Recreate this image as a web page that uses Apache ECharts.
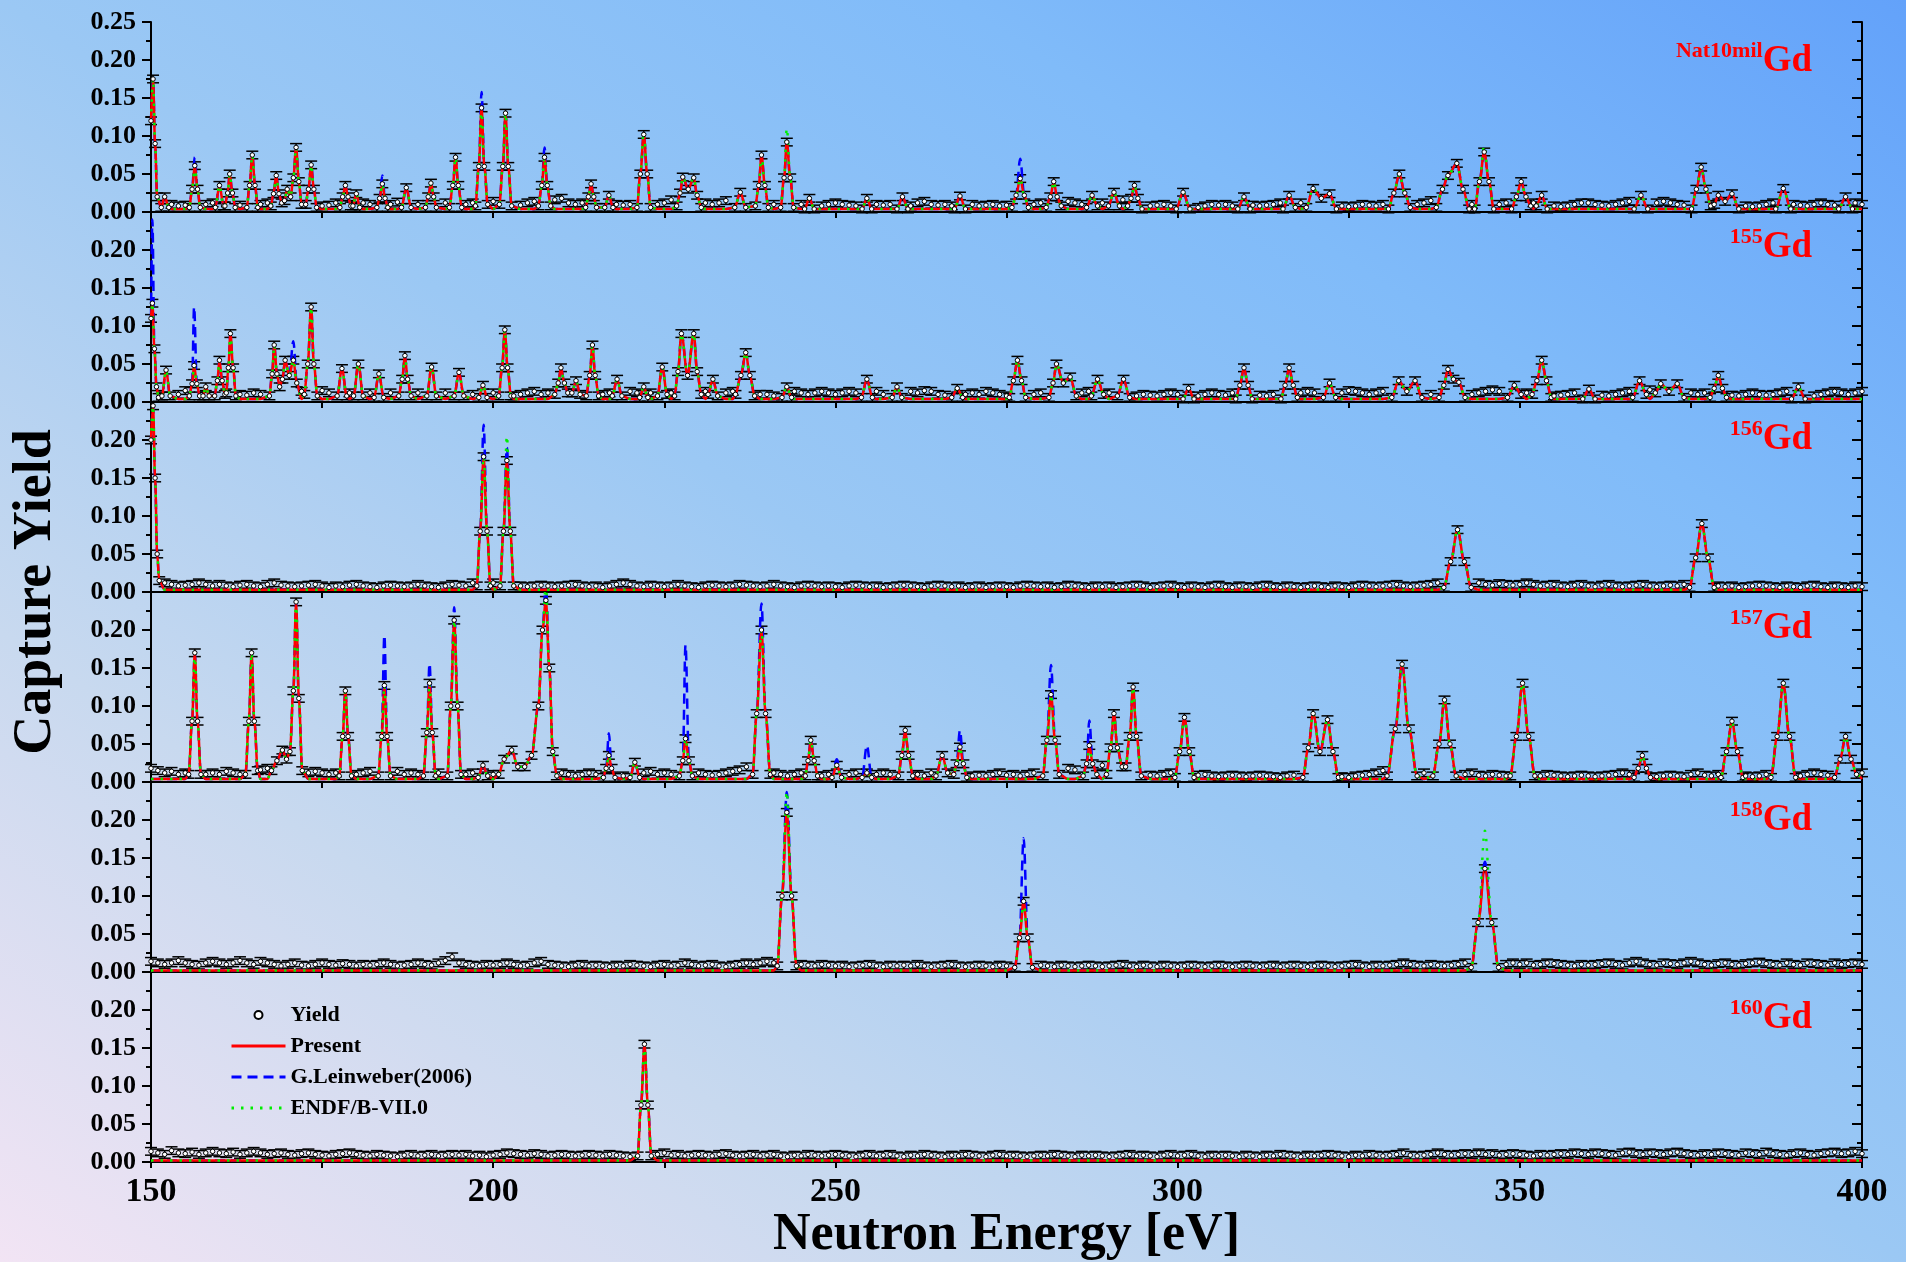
<!DOCTYPE html>
<html><head><meta charset="utf-8">
<script src="https://cdn.jsdelivr.net/npm/echarts/dist/echarts.min.js"></script>
<style>
html,body{margin:0;padding:0;width:1906px;height:1262px;overflow:hidden}
#c{width:1906px;height:1262px;background:linear-gradient(to top right,#f2e4f4 0%,#c8d9ef 25%,#9bc8f4 50%,#80bbf9 75%,#63a2fa 100%)}
</style>
</head><body><div id="c"></div>
<script>
// ---------- DATA ----------
const energyStart = 150;           // first energy of the off-resonance grids (eV), 1 eV apart
const xLabelValues = [150, 200, 250, 300, 350, 400];
const panelIsotopes = ['Nat10mil', '155', '156', '157', '158', '160'];
const fitBackground = [0.004, 0.004, 0.003, 0.004, 0.002, 0.002];
const yieldErr = 0.005;

// off-resonance yield points, 150..400 eV
const noiseNat = [
.02,.018,.012,.01,.008,.009,.012,.009,.01,.012,
.012,.015,.01,.009,.011,.013,.01,.012,.014,.018,
.016,.014,.012,.015,.01,.008,.009,.012,.015,.012,
.014,.012,.01,.015,.014,.01,.013,.016,.012,.01,
.012,.014,.01,.012,.015,.012,.01,.012,.014,.016,
.014,.012,.01,.012,.009,.012,.014,.015,.012,.016,
.018,.012,.01,.012,.014,.016,.012,.014,.01,.009,
.01,.012,.015,.012,.01,.012,.016,.02,.022,.018,
.014,.012,.01,.012,.015,.012,.014,.012,.016,.014,
.012,.01,.012,.014,.011,.01,.012,.01,.008,.01,
.012,.01,.009,.008,.01,.012,.01,.009,.01,.012,
.01,.008,.012,.014,.01,.009,.01,.008,.012,.014,
.01,.008,.009,.01,.008,.009,.01,.014,.012,.01,
.012,.015,.014,.01,.014,.012,.01,.012,.014,.012,
.014,.012,.016,.014,.012,.01,.008,.009,.01,.008,
.01,.012,.008,.006,.008,.01,.009,.01,.008,.012,
.012,.009,.008,.009,.01,.012,.014,.01,.012,.016,
.018,.016,.014,.012,.008,.007,.008,.01,.009,.008,
.01,.012,.015,.014,.012,.01,.012,.015,.018,.02,
.022,.018,.012,.01,.012,.015,.012,.01,.012,.014,
.016,.014,.012,.014,.01,.008,.007,.008,.01,.012,
.012,.01,.009,.008,.01,.012,.014,.012,.01,.01,
.012,.014,.012,.01,.009,.01,.012,.015,.014,.012,
.014,.012,.01,.008,.007,.008,.01,.012,.014,.012,
.01,.009,.008,.01,.012,.01,.009,.012,.014,.012,
.01];
const noise155 = [
.02,.015,.012,.012,.01,.015,.012,.01,.012,.01,
.012,.01,.012,.01,.009,.012,.01,.015,.012,.016,
.018,.015,.014,.012,.01,.015,.012,.014,.01,.012,
.014,.01,.012,.015,.014,.012,.01,.012,.015,.012,
.014,.012,.01,.012,.015,.014,.012,.01,.012,.014,
.012,.01,.012,.008,.01,.012,.014,.01,.012,.016,
.018,.014,.016,.012,.015,.012,.01,.012,.014,.016,
.014,.012,.01,.012,.018,.016,.012,.014,.02,.018,
.016,.014,.018,.015,.012,.014,.016,.018,.014,.01,
.01,.008,.01,.012,.014,.012,.01,.012,.014,.012,
.01,.012,.014,.012,.01,.012,.014,.01,.012,.014,
.012,.014,.012,.015,.014,.01,.009,.01,.012,.01,
.012,.01,.014,.012,.01,.008,.012,.015,.012,.01,
.012,.015,.014,.012,.015,.014,.012,.014,.012,.01,
.012,.014,.012,.01,.008,.01,.009,.008,.01,.012,
.01,.012,.01,.008,.01,.012,.01,.009,.012,.014,
.012,.01,.009,.008,.01,.014,.012,.01,.012,.014,
.012,.01,.012,.014,.012,.015,.014,.012,.01,.012,
.014,.012,.015,.014,.016,.014,.012,.01,.012,.016,
.018,.015,.012,.01,.012,.014,.016,.014,.015,.016,
.014,.012,.015,.014,.01,.008,.009,.01,.012,.014,
.012,.01,.009,.008,.01,.012,.014,.012,.015,.016,
.018,.015,.014,.016,.014,.012,.01,.012,.014,.012,
.01,.009,.008,.01,.012,.01,.009,.01,.012,.014,
.012,.01,.009,.008,.01,.012,.014,.012,.01,.012,
.014];
const noise156 = [
.012,.01,.012,.01,.008,.009,.01,.012,.01,.008,
.01,.008,.007,.009,.01,.008,.007,.01,.012,.009,
.008,.007,.008,.009,.01,.008,.006,.008,.007,.009,
.01,.008,.007,.006,.008,.009,.008,.007,.008,.01,
.008,.007,.006,.008,.01,.009,.008,.012,.01,.012,
.012,.01,.012,.01,.008,.007,.008,.009,.008,.007,
.008,.009,.01,.008,.007,.008,.006,.008,.01,.012,
.01,.008,.007,.009,.008,.007,.008,.01,.008,.007,
.006,.008,.009,.008,.007,.008,.01,.009,.008,.007,
.008,.01,.008,.007,.006,.008,.009,.008,.007,.008,
.007,.006,.008,.009,.008,.007,.008,.006,.007,.008,
.009,.008,.007,.006,.008,.009,.008,.007,.008,.006,
.007,.008,.006,.007,.008,.007,.006,.008,.009,.008,
.007,.008,.006,.007,.009,.008,.007,.006,.008,.007,
.008,.006,.007,.008,.009,.008,.006,.007,.008,.009,
.007,.006,.008,.007,.006,.008,.009,.007,.006,.008,
.007,.006,.008,.009,.007,.006,.008,.007,.006,.007,
.008,.007,.006,.008,.007,.006,.008,.009,.008,.007,
.008,.009,.01,.008,.007,.008,.009,.01,.012,.01,
.012,.01,.009,.01,.012,.01,.009,.011,.01,.009,
.01,.012,.01,.008,.009,.01,.008,.007,.009,.01,
.008,.007,.009,.01,.008,.007,.008,.009,.01,.008,
.007,.008,.009,.008,.01,.012,.01,.009,.01,.008,
.007,.008,.006,.007,.008,.009,.008,.007,.006,.008,
.007,.006,.008,.009,.007,.006,.008,.007,.006,.008,
.007];
const noise157 = [
.018,.015,.012,.014,.01,.012,.015,.012,.01,.012,
.01,.014,.012,.01,.012,.014,.016,.018,.02,.03,
.035,.02,.015,.012,.014,.012,.01,.012,.014,.012,
.01,.012,.014,.012,.01,.012,.014,.01,.012,.01,
.012,.014,.012,.01,.015,.012,.01,.012,.014,.012,
.01,.02,.03,.025,.02,.025,.03,.04,.03,.015,
.012,.01,.008,.01,.012,.01,.009,.012,.01,.008,
.012,.01,.012,.014,.01,.012,.01,.012,.014,.016,
.012,.01,.009,.01,.012,.014,.016,.02,.03,.05,
.02,.012,.01,.008,.01,.012,.015,.01,.008,.01,
.009,.008,.01,.012,.01,.008,.01,.012,.01,.012,
.01,.012,.01,.008,.012,.015,.014,.016,.012,.01,
.008,.009,.008,.01,.012,.009,.01,.008,.01,.012,
.015,.012,.01,.012,.018,.016,.015,.012,.02,.022,
.025,.02,.018,.022,.015,.01,.009,.008,.01,.012,
.012,.01,.008,.009,.01,.008,.007,.008,.009,.008,
.007,.008,.009,.008,.007,.006,.008,.009,.01,.012,
.014,.012,.01,.008,.007,.006,.008,.009,.01,.012,
.015,.012,.01,.012,.009,.01,.012,.014,.012,.01,
.009,.008,.01,.012,.009,.008,.01,.009,.008,.009,
.01,.012,.009,.008,.01,.009,.008,.007,.008,.009,
.008,.007,.008,.009,.01,.012,.01,.012,.01,.008,
.007,.008,.009,.008,.007,.01,.012,.009,.008,.01,
.012,.01,.009,.008,.007,.008,.01,.009,.012,.01,
.009,.008,.01,.012,.01,.009,.012,.014,.016,.015,
.012];
const noise158 = [
.014,.012,.01,.012,.015,.012,.01,.009,.012,.014,
.012,.01,.012,.015,.012,.01,.014,.012,.01,.008,
.01,.012,.009,.008,.01,.012,.01,.009,.011,.01,
.008,.01,.009,.01,.012,.01,.008,.009,.01,.012,
.01,.009,.012,.015,.02,.012,.01,.009,.008,.01,
.009,.01,.012,.01,.008,.009,.012,.014,.01,.009,
.008,.007,.009,.01,.008,.009,.008,.007,.009,.008,
.01,.009,.008,.007,.009,.01,.008,.009,.012,.01,
.008,.009,.01,.008,.007,.009,.01,.012,.01,.012,
.014,.012,.01,.012,.014,.01,.009,.008,.01,.009,
.008,.009,.007,.008,.009,.01,.008,.007,.009,.008,
.009,.008,.01,.008,.007,.008,.009,.01,.008,.007,
.008,.009,.008,.007,.009,.008,.01,.012,.01,.008,
.009,.008,.007,.009,.008,.007,.008,.009,.008,.007,
.008,.009,.01,.008,.007,.009,.008,.007,.009,.008,
.007,.008,.009,.008,.007,.008,.009,.008,.007,.008,
.009,.008,.007,.008,.009,.007,.008,.009,.008,.007,
.008,.009,.008,.007,.008,.009,.01,.008,.007,.009,
.008,.009,.01,.012,.01,.009,.008,.01,.009,.008,
.009,.01,.012,.014,.012,.01,.012,.009,.01,.012,
.01,.012,.009,.01,.012,.011,.01,.009,.008,.01,
.009,.01,.011,.012,.01,.009,.012,.014,.012,.01,
.009,.012,.011,.01,.012,.014,.012,.01,.009,.011,
.012,.01,.009,.011,.012,.013,.011,.01,.009,.012,
.01,.009,.012,.011,.01,.009,.012,.01,.011,.012,
.01];
const noise160 = [
.014,.012,.01,.015,.012,.011,.013,.01,.012,.014,
.012,.011,.013,.01,.012,.014,.012,.01,.011,.012,
.01,.009,.011,.012,.01,.009,.008,.01,.011,.012,
.01,.009,.008,.01,.009,.008,.007,.009,.01,.008,
.009,.01,.008,.009,.01,.009,.01,.008,.009,.007,
.009,.01,.012,.011,.01,.009,.011,.01,.008,.009,
.01,.009,.008,.009,.01,.009,.008,.01,.009,.008,
.007,.009,.01,.008,.01,.012,.009,.01,.008,.009,
.01,.009,.008,.01,.011,.009,.008,.009,.01,.008,
.009,.01,.008,.007,.009,.008,.01,.009,.008,.009,
.01,.009,.008,.007,.009,.01,.008,.009,.01,.008,
.007,.009,.008,.01,.009,.008,.007,.009,.008,.01,
.009,.008,.007,.009,.01,.008,.009,.008,.007,.008,
.009,.008,.01,.009,.008,.007,.009,.008,.009,.008,
.007,.008,.009,.01,.008,.009,.008,.007,.009,.01,
.008,.009,.01,.008,.007,.009,.008,.009,.008,.007,
.009,.008,.007,.009,.008,.01,.009,.008,.007,.009,
.008,.009,.01,.009,.008,.007,.009,.008,.01,.009,
.008,.009,.01,.012,.009,.008,.009,.01,.012,.01,
.009,.01,.011,.01,.012,.01,.011,.009,.01,.011,
.01,.009,.008,.01,.009,.01,.011,.01,.012,.011,
.01,.012,.011,.01,.009,.012,.013,.011,.01,.012,
.011,.01,.012,.013,.011,.01,.009,.011,.01,.012,
.011,.01,.009,.012,.011,.01,.013,.011,.01,.009,
.011,.012,.01,.009,.011,.012,.013,.011,.012,.014,
.011];

// resonance shapes: each group is [E1,Y1, E2,Y2, ...]
const peaksNat = [
[150.0,.12,150.3,.175,150.6,.09,150.9,.02],
[151.5,.006,152.0,.02,152.6,.006],
[155.6,.006,156.0,.03,156.4,.061,156.8,.03,157.2,.006],
[159.4,.006,160.0,.035,160.6,.008],
[160.8,.008,161.2,.025,161.5,.05,161.9,.025,162.3,.006],
[164.0,.006,164.4,.035,164.8,.075,165.2,.035,165.6,.006],
[167.5,.008,167.9,.024,168.3,.048,168.7,.024,169.1,.012],
[169.5,.015,169.9,.03,170.4,.02,170.8,.045,171.2,.085,171.6,.04,172.0,.01],
[172.6,.01,173.0,.03,173.4,.062,173.8,.03,174.2,.006],
[177.6,.006,178.0,.02,178.4,.035,178.8,.02,179.2,.008],
[179.5,.008,180.0,.024,180.5,.006],
[183.0,.006,183.4,.018,183.8,.037,184.2,.018,184.6,.006],
[186.6,.006,187.3,.032,188.0,.006],
[190.1,.006,190.5,.02,190.9,.038,191.3,.02,191.7,.006],
[193.6,.006,194.1,.035,194.5,.072,194.9,.035,195.4,.006],
[197.4,.008,197.9,.06,198.3,.137,198.7,.06,199.2,.01],
[200.9,.01,201.4,.06,201.8,.13,202.2,.06,202.7,.008],
[206.6,.008,207.1,.035,207.5,.072,207.9,.035,208.4,.008],
[213.5,.006,213.9,.02,214.3,.037,214.7,.02,215.1,.006],
[216.3,.006,216.9,.022,217.5,.006],
[221.0,.006,221.5,.05,222.0,.102,222.5,.05,223.0,.006],
[226.8,.008,227.3,.025,227.7,.046,228.5,.03,229.3,.045,229.8,.022,230.4,.006],
[235.3,.006,236.1,.026,236.9,.006],
[238.3,.008,238.8,.035,239.2,.075,239.7,.035,240.2,.006],
[242.0,.006,242.5,.045,242.9,.092,243.4,.045,243.9,.006],
[245.5,.004,246.2,.018,246.9,.004],
[253.9,.004,254.6,.018,255.3,.004],
[259.0,.004,259.8,.02,260.6,.004],
[267.4,.004,268.2,.021,269.0,.004],
[275.8,.006,276.4,.022,277.0,.044,277.6,.022,278.2,.006],
[280.8,.006,281.4,.02,281.9,.04,282.4,.02,283.0,.008],
[286.7,.006,287.5,.022,288.3,.008],
[289.9,.008,290.7,.026,291.5,.008],
[292.7,.008,293.2,.018,293.7,.035,294.2,.018,294.8,.004],
[299.8,.004,300.8,.026,301.8,.004],
[308.8,.004,309.7,.02,310.6,.004],
[315.4,.004,316.3,.022,317.2,.006],
[318.8,.006,319.8,.031,321.0,.018,322.2,.024,323.2,.004],
[330.8,.004,331.6,.025,332.4,.05,333.2,.025,334.0,.006],
[337.8,.006,338.7,.03,339.5,.048,340.8,.064,341.7,.03,342.6,.004],
[343.4,.004,344.1,.04,344.8,.079,345.5,.04,346.2,.004],
[348.8,.004,349.5,.02,350.2,.04,350.9,.02,351.6,.008],
[352.4,.008,353.2,.022,354.0,.004],
[366.7,.004,367.7,.022,368.7,.004],
[375.1,.004,375.8,.03,376.5,.059,377.2,.03,377.9,.008],
[378.4,.01,379.0,.022,380.0,.014,381.0,.024,382.0,.004],
[387.4,.004,388.5,.031,389.6,.004],
[396.6,.004,397.6,.02,398.6,.004]
];
const peaks155 = [
[150.0,.11,150.2,.13,150.5,.07,150.8,.02,151.1,.006],
[151.6,.008,152.2,.042,152.8,.008],
[155.6,.008,156.0,.024,156.3,.048,156.7,.024,157.1,.008],
[157.6,.008,158.0,.02,158.5,.008],
[159.3,.008,159.7,.028,160.0,.055,160.4,.028,160.8,.01],
[161.0,.012,161.3,.045,161.6,.09,162.0,.045,162.4,.008],
[167.3,.008,167.7,.037,168.0,.075,168.4,.037,168.8,.02],
[169.2,.03,169.6,.055,170.2,.035,170.8,.055,171.3,.025],
[172.4,.01,172.9,.05,173.4,.125,173.8,.05,174.3,.008],
[177.2,.008,177.9,.044,178.6,.008],
[179.6,.008,180.3,.05,181.0,.008],
[182.6,.006,183.3,.037,184.0,.006],
[186.2,.008,186.7,.03,187.1,.061,187.5,.03,188.0,.008],
[190.3,.008,191.0,.046,191.7,.008],
[194.3,.008,195.0,.039,195.7,.008],
[197.9,.006,198.5,.022,199.1,.006],
[200.8,.008,201.3,.045,201.7,.095,202.1,.045,202.6,.008],
[209.0,.01,209.5,.025,209.9,.045,210.4,.025,210.9,.012],
[211.5,.012,212.1,.028,212.7,.01],
[213.6,.008,214.1,.035,214.5,.075,214.9,.035,215.4,.008],
[217.4,.008,218.1,.03,218.8,.008],
[221.4,.006,222.0,.02,222.6,.006],
[224.0,.008,224.7,.046,225.4,.01],
[226.5,.008,227.0,.04,227.5,.09,228.4,.035,229.3,.09,229.8,.04,230.4,.01],
[231.4,.01,232.1,.03,232.8,.008],
[235.4,.01,236.2,.035,236.9,.065,237.5,.035,238.2,.008],
[242.2,.006,242.9,.02,243.6,.006],
[253.8,.006,254.6,.03,255.4,.006],
[258.3,.006,259.0,.02,259.7,.006],
[267.0,.006,267.8,.018,268.6,.006],
[275.4,.006,276.0,.028,276.6,.055,277.2,.028,277.8,.006],
[281.2,.006,281.8,.025,282.3,.05,283.3,.025,284.3,.033,285.2,.008],
[287.4,.008,288.3,.03,289.2,.01],
[291.2,.008,292.1,.03,293.0,.006],
[300.8,.004,301.6,.018,302.4,.004],
[308.5,.004,309.1,.022,309.7,.045,310.3,.022,310.9,.004],
[315.1,.004,315.7,.022,316.3,.045,316.9,.022,317.5,.006],
[321.3,.006,322.2,.025,323.1,.006],
[331.3,.006,332.3,.028,333.5,.014,334.7,.028,335.7,.006],
[338.2,.006,338.9,.022,339.5,.043,340.3,.03,341.1,.026,342.0,.006],
[348.2,.006,349.2,.022,350.2,.01],
[351.8,.01,352.5,.028,353.2,.055,353.9,.028,354.6,.006],
[359.2,.004,360.1,.017,361.0,.004],
[366.5,.006,367.5,.028,368.5,.01],
[369.8,.012,370.6,.024,371.8,.014,373.0,.024,374.0,.006],
[377.8,.006,378.4,.018,379.0,.035,379.6,.018,380.2,.006],
[389.7,.004,390.7,.02,391.7,.004]
];
const peaks156 = [
[150.0,.2,150.3,.245,150.6,.15,150.9,.05,151.2,.015],
[197.6,.008,198.1,.08,198.6,.178,199.1,.08,199.6,.008],
[201.0,.008,201.5,.08,202.0,.173,202.5,.08,203.0,.008],
[338.9,.006,339.9,.04,340.9,.082,341.9,.04,342.9,.006],
[374.8,.006,375.7,.045,376.6,.09,377.5,.045,378.4,.006]
];
const peaks157 = [
[155.5,.01,156.0,.08,156.4,.17,156.8,.08,157.3,.01],
[163.8,.01,164.3,.08,164.7,.17,165.1,.08,165.6,.015],
[167.6,.015,168.4,.028,169.2,.042,169.8,.03,170.3,.04,170.8,.12,171.2,.237,171.6,.11,172.1,.015],
[177.5,.008,178.0,.06,178.4,.12,178.8,.06,179.3,.008],
[183.2,.008,183.7,.06,184.1,.127,184.5,.06,185.0,.008],
[189.8,.008,190.3,.065,190.7,.13,191.1,.065,191.6,.008],
[193.3,.008,193.8,.1,194.3,.213,194.8,.1,195.3,.01],
[197.8,.006,198.5,.022,199.2,.008],
[200.8,.01,201.6,.03,202.7,.042,203.6,.02,204.6,.02,205.6,.035,206.6,.1,207.2,.2,207.7,.239,208.2,.15,208.7,.04,209.3,.008],
[216.1,.006,216.5,.018,216.9,.035,217.3,.018,217.8,.006],
[220.0,.006,220.7,.026,221.4,.006],
[227.2,.008,227.7,.028,228.1,.057,228.6,.028,229.1,.008],
[237.9,.01,238.5,.09,239.2,.2,239.8,.09,240.5,.01],
[245.6,.008,246.0,.028,246.4,.055,246.9,.028,247.4,.008],
[249.5,.006,250.2,.022,250.9,.006],
[253.9,.006,254.6,.012,255.3,.006],
[259.2,.008,259.7,.035,260.2,.068,260.7,.035,261.3,.008],
[264.7,.008,265.6,.035,266.4,.012],
[267.3,.01,267.7,.024,268.2,.046,268.7,.024,269.2,.006],
[280.3,.008,280.9,.055,281.5,.115,282.1,.055,282.7,.01],
[286.2,.008,286.7,.024,287.1,.048,287.6,.024,288.2,.01],
[289.6,.01,290.2,.045,290.7,.09,291.2,.045,291.9,.02],
[292.4,.02,293.0,.06,293.5,.125,294.0,.06,294.7,.008],
[299.6,.006,300.3,.04,301.0,.085,301.7,.04,302.4,.006],
[318.3,.006,319.1,.045,319.8,.09,320.8,.04,321.9,.082,322.7,.04,323.5,.006],
[330.6,.008,331.8,.07,332.8,.155,333.8,.07,335.0,.008],
[337.3,.008,338.2,.05,339.0,.108,339.8,.05,340.7,.008],
[348.6,.008,349.5,.06,350.4,.13,351.3,.06,352.2,.008],
[366.7,.006,367.3,.018,367.9,.035,368.5,.018,369.1,.006],
[379.4,.006,380.2,.04,381.0,.08,381.8,.04,382.6,.006],
[386.7,.006,387.6,.06,388.5,.13,389.4,.06,390.3,.006],
[396.0,.006,396.8,.03,397.6,.06,398.4,.03,399.2,.01]
];
const peaks158 = [
[241.5,.008,242.2,.1,242.9,.21,243.6,.1,244.3,.008],
[276.2,.006,276.9,.045,277.5,.093,278.1,.045,278.8,.006],
[342.9,.006,343.9,.065,344.9,.136,345.9,.065,346.9,.006]
];
const peaks160 = [
[221.1,.008,221.6,.075,222.1,.155,222.6,.075,223.1,.008]
];

// peak heights where G.Leinweber(2006) / ENDF/B-VII.0 differ from the present fit: [E, yield]
const leinNat = [[156.4,.072],[183.8,.048],[198.3,.158],[207.5,.085],[277.0,.07]];
const endfNat = [[222.0,.105],[242.9,.11],[344.8,.087]];
const lein155 = [[150.2,.24],[156.3,.125],[170.8,.08]];
const endf155 = [];
const lein156 = [[198.6,.22],[202.0,.19]];
const endf156 = [[202.0,.205]];
const lein157 = [[184.1,.193],[190.7,.156],[194.3,.23],[207.7,.26],[216.9,.064],[228.1,.18],[239.2,.235],[250.2,.03],[254.6,.048],[268.2,.068],[281.5,.154],[287.1,.081]];
const endf157 = [[207.7,.26]];
const lein158 = [[242.9,.237],[277.5,.176],[344.9,.145]];
const endf158 = [[242.9,.237],[344.9,.186]];
const lein160 = [];
const endf160 = [];

// ---------- BUILD ----------
const panels = [
  [noiseNat, peaksNat, leinNat, endfNat],
  [noise155, peaks155, lein155, endf155],
  [noise156, peaks156, lein156, endf156],
  [noise157, peaks157, lein157, endf157],
  [noise158, peaks158, lein158, endf158],
  [noise160, peaks160, lein160, endf160]
];

function buildPanel(noise, peaks, bg, lein, endf) {
  const spans = peaks.map(g => [g[0], g[g.length - 2]]);
  const inside = e => spans.some(s => e > s[0] - 0.4 && e < s[1] + 0.4);
  const yieldPts = [], fitPts = [];
  noise.forEach((y, i) => {
    const e = energyStart + i;
    if (!inside(e)) { yieldPts.push([e, y]); fitPts.push([e, bg]); }
  });
  peaks.forEach(g => {
    for (let i = 0; i < g.length; i += 2) { yieldPts.push([g[i], g[i + 1]]); fitPts.push([g[i], g[i + 1]]); }
  });
  yieldPts.sort((a, b) => a[0] - b[0]);
  fitPts.sort((a, b) => a[0] - b[0]);
  const over = ov => fitPts.map(p => {
    const m = ov.find(o => Math.abs(o[0] - p[0]) < 1e-6);
    return m ? [p[0], m[1]] : p;
  });
  return { yieldPts, fitPts, leinPts: over(lein), endfPts: over(endf) };
}

const FONT = '"Liberation Serif","Times New Roman",serif';
const L = 151, R = 44, TOP = 22, PH = 190;

function renderErrorBar(params, api) {
  const e = api.value(0), y = api.value(1), err = api.value(2);
  const hi = api.coord([e, y + err]), lo = api.coord([e, y - err]);
  const st = { stroke: '#000', lineWidth: 1.5 };
  return { type: 'group', children: [
    { type: 'line', shape: { x1: hi[0], y1: hi[1], x2: lo[0], y2: lo[1] }, style: st },
    { type: 'line', shape: { x1: hi[0] - 6, y1: hi[1], x2: hi[0] + 6, y2: hi[1] }, style: st },
    { type: 'line', shape: { x1: lo[0] - 6, y1: lo[1], x2: lo[0] + 6, y2: lo[1] }, style: st }
  ]};
}

const grids = [], xAxes = [], yAxes = [], series = [], graphics = [];
const labelTops = [40, 226, 418, 607, 799, 997];

panels.forEach((p, i) => {
  const d = buildPanel(p[0], p[1], fitBackground[i], p[2], p[3]);
  grids.push({ left: L, right: R, top: TOP + PH * i, height: PH, outerBoundsMode: 'none', containLabel: false });
  const last = i === panels.length - 1;
  xAxes.push({
    type: 'value', gridIndex: i, min: 150, max: 400, interval: 25, position: 'bottom',
    axisLine: { show: true, onZero: false, lineStyle: { color: '#000', width: 2 } },
    axisTick: { show: true, inside: false, length: 6, lineStyle: { color: '#000', width: 2 } },
    splitLine: { show: false },
    axisLabel: {
      show: last, margin: 13, color: '#000', fontFamily: FONT, fontWeight: 'bold', fontSize: 34,
      formatter: v => xLabelValues.indexOf(v) >= 0 ? String(v) : ''
    },
    name: last ? 'Neutron Energy [eV]' : '', nameLocation: 'middle', nameGap: 37,
    nameTextStyle: { color: '#000', fontFamily: FONT, fontWeight: 'bold', fontSize: 52 }
  });
  const yBase = {
    type: 'value', gridIndex: i, min: 0, max: 0.25, interval: 0.05,
    splitLine: { show: false },
    axisLine: { show: true, onZero: false, lineStyle: { color: '#000', width: 2 } }
  };
  yAxes.push(Object.assign({}, yBase, {
    position: 'left',
    axisTick: { show: true, inside: false, length: 9, lineStyle: { color: '#000', width: 2 } },
    minorTick: { show: true, splitNumber: 2, length: 5, lineStyle: { color: '#000', width: 2 } },
    axisLabel: {
      show: true, margin: 15, color: '#000', fontFamily: FONT, fontWeight: 'bold', fontSize: 26,
      showMinLabel: true, showMaxLabel: i === 0,
      formatter: v => (i > 0 && v > 0.245) ? '' : v.toFixed(2)
    }
  }));
  yAxes.push(Object.assign({}, yBase, {
    position: 'right',
    axisTick: { show: true, inside: true, length: 10, lineStyle: { color: '#000', width: 2 } },
    minorTick: { show: true, splitNumber: 2, length: 5, lineStyle: { color: '#000', width: 2 } },
    axisLabel: { show: false }
  }));
  const xi = i, yi = 2 * i;
  series.push({
    type: 'custom', name: 'Yield error', xAxisIndex: xi, yAxisIndex: yi, silent: true, z: 2,
    renderItem: renderErrorBar, encode: { x: 0, y: 1 },
    data: d.yieldPts.map(q => [q[0], q[1], yieldErr])
  });
  const lineCommon = { type: 'line', xAxisIndex: xi, yAxisIndex: yi, symbol: 'none', showSymbol: false,
    smooth: 0.35, smoothMonotone: 'x', clip: true, silent: true, z: 3 };
  series.push(Object.assign({}, lineCommon, { name: 'G.Leinweber(2006)', data: d.leinPts,
    lineStyle: { color: '#0000ff', width: 2.5, type: [10, 6] }, itemStyle: { color: '#0000ff' } }));
  series.push(Object.assign({}, lineCommon, { name: 'Present', data: d.fitPts,
    lineStyle: { color: '#ff0000', width: 2.5, type: 'solid' }, itemStyle: { color: '#ff0000' } }));
  series.push(Object.assign({}, lineCommon, { name: 'ENDF/B-VII.0', data: d.endfPts,
    lineStyle: { color: '#00ee00', width: 2.5, type: [2.5, 7] }, itemStyle: { color: '#00ee00' } }));
  series.push({
    type: 'scatter', name: 'Yield', xAxisIndex: xi, yAxisIndex: yi, silent: true, z: 4,
    symbol: 'circle', symbolSize: 4.5, data: d.yieldPts,
    itemStyle: { color: '#ffffff', borderColor: '#000', borderWidth: 1, opacity: 1 }
  });
  graphics.push({
    type: 'text', x: 1812, y: labelTops[i], silent: true,
    style: {
      text: '{s|' + panelIsotopes[i] + '}{g|Gd}', align: 'right', verticalAlign: 'top',
      rich: {
        s: { fontFamily: FONT, fontWeight: 'bold', fontSize: 22, lineHeight: 24, fill: '#ff0000', color: '#ff0000', verticalAlign: 'top' },
        g: { fontFamily: FONT, fontWeight: 'bold', fontSize: 37, lineHeight: 40, fill: '#ff0000', color: '#ff0000', verticalAlign: 'bottom' }
      }
    }
  });
});

// top axis of the first panel
xAxes.push({
  type: 'value', gridIndex: 0, min: 150, max: 400, interval: 25, position: 'top',
  axisLine: { show: true, lineStyle: { color: '#000', width: 2 } },
  axisTick: { show: true, inside: true, length: 6, lineStyle: { color: '#000', width: 2 } },
  axisLabel: { show: false }, splitLine: { show: false }
});

graphics.push({
  type: 'text', x: 36, y: TOP + PH * 3, rotation: Math.PI / 2, silent: true,
  style: { text: 'Capture Yield', align: 'center', verticalAlign: 'middle',
    fontFamily: FONT, fontWeight: 'bold', fontSize: 54, fill: '#000' }
});

const hideSym = { opacity: 0, color: 'transparent', borderColor: 'transparent', borderWidth: 0 };
const chart = echarts.init(document.getElementById('c'), null, { renderer: 'canvas' });
chart.setOption({
  backgroundColor: 'transparent',
  animation: false,
  grid: grids,
  xAxis: xAxes,
  yAxis: yAxes,
  legend: {
    data: [
      { name: 'Yield' },
      { name: 'Present', itemStyle: hideSym },
      { name: 'G.Leinweber(2006)', itemStyle: hideSym },
      { name: 'ENDF/B-VII.0', itemStyle: hideSym }
    ],
    orient: 'vertical', left: 225, top: 999, itemWidth: 54, itemHeight: 8, itemGap: 9,
    selectedMode: false,
    lineStyle: { width: 3 },
    textStyle: { color: '#000', fontFamily: FONT, fontWeight: 'bold', fontSize: 22, lineHeight: 22 }
  },
  graphic: graphics,
  series: series
});
</script>
</body></html>
